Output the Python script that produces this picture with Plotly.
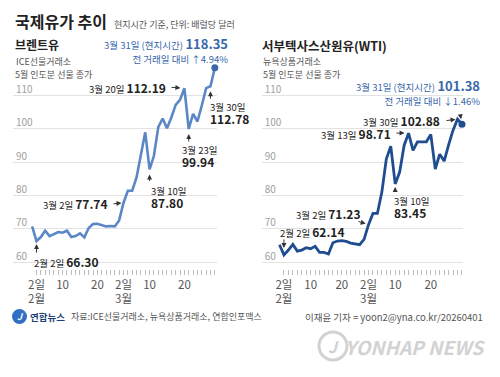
import plotly.graph_objects as go

# ---------------- data ----------------
brent_dates = [
    "2026-01-30",
    "2026-02-02", "2026-02-03", "2026-02-04", "2026-02-05", "2026-02-06",
    "2026-02-09", "2026-02-10", "2026-02-11", "2026-02-12", "2026-02-13",
    "2026-02-16", "2026-02-17", "2026-02-18", "2026-02-19", "2026-02-20",
    "2026-02-23", "2026-02-24", "2026-02-25", "2026-02-26", "2026-02-27",
    "2026-03-02", "2026-03-03", "2026-03-04", "2026-03-05", "2026-03-06",
    "2026-03-09", "2026-03-10", "2026-03-11", "2026-03-12", "2026-03-13",
    "2026-03-16", "2026-03-17", "2026-03-18", "2026-03-19", "2026-03-20",
    "2026-03-23", "2026-03-24", "2026-03-25", "2026-03-26", "2026-03-27",
    "2026-03-30", "2026-03-31",
]
brent_values = [
    70.7,
    66.30, 67.5, 69.4, 67.8, 68.5,
    69.0, 68.8, 69.4, 67.5, 67.8,
    68.6, 67.4, 70.2, 71.4, 71.5,
    71.2, 70.7, 70.8, 70.7, 72.5,
    77.74, 81.4, 81.4, 85.4, 92.7,
    98.96, 87.80, 91.9, 100.5, 103.1,
    100.2, 103.4, 107.2, 108.7, 112.19,
    99.94, 104.5, 102.2, 107.0, 112.2,
    112.78, 118.35,
]

wti_dates = [
    "2026-01-30",
    "2026-02-02", "2026-02-03", "2026-02-04", "2026-02-05", "2026-02-06",
    "2026-02-09", "2026-02-10", "2026-02-11", "2026-02-12", "2026-02-13",
    "2026-02-17", "2026-02-18", "2026-02-19", "2026-02-20",
    "2026-02-23", "2026-02-24", "2026-02-25", "2026-02-26", "2026-02-27",
    "2026-03-02", "2026-03-03", "2026-03-04", "2026-03-05", "2026-03-06",
    "2026-03-09", "2026-03-10", "2026-03-11", "2026-03-12", "2026-03-13",
    "2026-03-16", "2026-03-17", "2026-03-18", "2026-03-19", "2026-03-20",
    "2026-03-23", "2026-03-24", "2026-03-25", "2026-03-26", "2026-03-27",
    "2026-03-30", "2026-03-31",
]
wti_values = [
    65.2,
    62.14, 63.6, 65.3, 63.3, 63.6,
    64.3, 64.0, 64.7, 62.9, 62.9,
    62.4, 65.8, 66.3, 66.4,
    66.2, 65.7, 65.4, 65.2, 66.8,
    71.23, 74.6, 74.6, 81.0, 90.9,
    94.8, 83.45, 87.0, 95.0, 98.71,
    93.5, 96.1, 96.2, 96.1, 98.3,
    87.9, 92.4, 90.3, 95.2, 99.6,
    102.88, 101.38,
]

tick_dates = ["2026-02-02", "2026-02-10", "2026-02-20", "2026-03-02", "2026-03-10", "2026-03-20"]
tick_text = ["2일<br>2월", "10", "20", "2일<br>3월", "10", "20"]
y_ticks = [60, 70, 80, 90, 100, 110]

# ---------------- style ----------------
W, H = 500, 377
FONT = "Noto Sans CJK KR, Noto Sans, sans-serif"
BRENT_COLOR = "#5b87c7"
WTI_COLOR = "#1f4d8f"
HEAD_BLUE = "#3867aa"
DARK = "#222222"
GRAY = "#555555"


def px(x):
    return x / W


def py(y):
    return 1 - y / H


def md(d):
    return f"{int(d[5:7])}월 {int(d[8:10])}일"


fig = go.Figure()

bx = list(range(len(brent_dates)))
wx = list(range(len(wti_dates)))

fig.add_trace(go.Scatter(
    x=bx, y=brent_values, mode="lines", xaxis="x", yaxis="y",
    line=dict(color=BRENT_COLOR, width=2.6), hoverinfo="skip", showlegend=False))
fig.add_trace(go.Scatter(
    x=[bx[-1]], y=[brent_values[-1]], mode="markers", xaxis="x", yaxis="y",
    marker=dict(color="#3a67a8", size=7), cliponaxis=False, showlegend=False))
fig.add_trace(go.Scatter(
    x=wx, y=wti_values, mode="lines", xaxis="x2", yaxis="y2",
    line=dict(color=WTI_COLOR, width=2.8), hoverinfo="skip", showlegend=False))
fig.add_trace(go.Scatter(
    x=[wx[-1]], y=[wti_values[-1]], mode="markers", xaxis="x2", yaxis="y2",
    marker=dict(color=WTI_COLOR, size=7), cliponaxis=False, showlegend=False))

y_dom = [py(268.7), py(62.2)]


def xaxis_cfg(dom, rng, dates):
    return dict(
        domain=dom, range=rng, showgrid=False, zeroline=False, showline=False,
        tickmode="array", tickvals=[dates.index(d) for d in tick_dates], ticktext=tick_text,
        ticks="outside", ticklen=5, tickwidth=1, tickcolor="#bbbbbb",
        tickfont=dict(family=FONT, size=11.5, color=GRAY),
        minor=dict(tickmode="linear", tick0=0, dtick=1, ticks="outside", ticklen=5,
                   tickwidth=1, tickcolor="#bbbbbb", showgrid=False),
        fixedrange=True,
    )


def yaxis_cfg(anchor):
    return dict(
        domain=y_dom, range=[58, 120], anchor=anchor,
        tickmode="array", tickvals=y_ticks, showgrid=True, gridcolor="#e2e2e2", gridwidth=1,
        zeroline=False, showline=False, ticks="",
        ticklabelposition="inside", ticklabelshift=-6, ticklabelstandoff=0,
        tickfont=dict(family=FONT, size=10, color="#a0a0a0"),
        fixedrange=True,
    )


annotations = []


def text(x, y, s, size=9.5, color=GRAY, anchor="left", bold=False, **kw):
    annotations.append(dict(
        x=px(x), y=py(y), xref="paper", yref="paper", text=(f"<b>{s}</b>" if bold else s),
        showarrow=False, xanchor=anchor, yanchor="middle",
        font=dict(family=FONT, size=size, color=color), **kw))


def arrow(xr, yr, xi, yv, ax, ay, standoff):
    annotations.append(dict(
        x=xi, y=yv, xref=xr, yref=yr, ax=ax, ay=ay, text="", showarrow=True,
        arrowhead=2, arrowsize=1, arrowwidth=1, arrowcolor="#333333", standoff=standoff))


def dtext(xr, yr, xi, yv, s, anchor, xs, ys, size=9.5, yanchor="middle"):
    annotations.append(dict(
        x=xi, y=yv, xref=xr, yref=yr, text=s,
        showarrow=False, xanchor=anchor, yanchor=yanchor, xshift=xs, yshift=ys,
        align="left", font=dict(family=FONT, size=size, color=DARK)))


VAL = "<span style='font-size:12px'><b>{:.2f}</b></span>"


def inline_label(d, v):
    return f"{md(d)} " + VAL.format(v)


def two_line(d, v):
    return f"<span style='font-size:9.5px'>{md(d)}</span><br>" + VAL.format(v)


def head_block(d, v, chg):
    return (f"<span style='font-size:9.5px'>{md(d)} (현지시간)</span> "
            f"<span style='font-size:13px'><b>{v:.2f}</b></span><br>"
            f"<span style='font-size:9.5px'>전 거래일 대비 {'↑' if chg >= 0 else '↓'}{abs(chg):.2f}%</span>")


# ---- header ----
text(12.5, 21, "국제유가 추이", size=16, color=DARK, bold=True)
text(112, 24, "현지시간 기준, 단위: 배럴당 달러", size=9, color=GRAY)

# ---- Brent header ----
text(12.5, 44.5, "브렌트유", size=12, color=DARK, bold=True)
text(13.5, 61.5, "ICE선물거래소", size=9, color=GRAY)
text(13, 74.5, "5월 인도분 선물 종가", size=9, color=GRAY)
b_chg = (brent_values[-1] / brent_values[-2] - 1) * 100
text(230, 50, head_block(brent_dates[-1], brent_values[-1], b_chg),
     size=11, color=HEAD_BLUE, anchor="right", align="right")

# ---- WTI header ----
text(259.5, 45.5, "서부텍사스산원유(WTI)", size=12.5, color=DARK, bold=True)
text(260.5, 61.5, "뉴욕상품거래소", size=9, color=GRAY)
text(260.5, 74.5, "5월 인도분 선물 종가", size=9, color=GRAY)
w_chg = (wti_values[-1] / wti_values[-2] - 1) * 100
text(482, 92, head_block(wti_dates[-1], wti_values[-1], w_chg),
     size=11, color=HEAD_BLUE, anchor="right", align="right")

# ---- Brent point labels ----
bi = {d: i for i, d in enumerate(brent_dates)}
d = "2026-02-02"; i = bi[d]; v = brent_values[i]
arrow("x", "y", i, v, 0, 13, 3)
dtext("x", "y", i, v, inline_label(d, v), "left", -4.5, -20)
d = "2026-03-02"; i = bi[d]; v = brent_values[i]
arrow("x", "y", i, v, -11.5, 1, 2)
dtext("x", "y", i, v, inline_label(d, v), "right", -13.5, -1)
d = "2026-03-20"; i = bi[d]; v = brent_values[i]
arrow("x", "y", i, v, -14.4, -1, 4)
dtext("x", "y", i, v, inline_label(d, v), "right", -16.5, 1)
for d, xs, ytop, ay in [("2026-03-10", -1, -13, 13),
                        ("2026-03-23", -8.7, -12, 14),
                        ("2026-03-30", -2.5, -11.5, 14)]:
    i = bi[d]; v = brent_values[i]
    arrow("x", "y", i, v, 0, ay, 5)
    dtext("x", "y", i, v, two_line(d, v), "left", xs, ytop, size=10, yanchor="top")

# ---- WTI point labels ----
wi = {d: i for i, d in enumerate(wti_dates)}
d = "2026-02-02"; i = wi[d]; v = wti_values[i]
arrow("x2", "y2", i, v, 0, -17, 7)
dtext("x2", "y2", i, v, inline_label(d, v), "left", -5.7, 23)
d = "2026-03-02"; i = wi[d]; v = wti_values[i]
arrow("x2", "y2", i, v, -11.5, -3.6, 3)
dtext("x2", "y2", i, v, inline_label(d, v), "right", -5.5, 11.3)
d = "2026-03-13"; i = wi[d]; v = wti_values[i]
arrow("x2", "y2", i, v, -13.6, 0, 4)
dtext("x2", "y2", i, v, inline_label(d, v), "right", -15.6, 0)
d = "2026-03-30"; i = wi[d]; v = wti_values[i]
arrow("x2", "y2", i, v, -12.5, 1.5, 2)
dtext("x2", "y2", i, v, inline_label(d, v), "right", -15.5, -1.5)
d = "2026-03-10"; i = wi[d]; v = wti_values[i]
arrow("x2", "y2", i, v, 0, 9, 3)
dtext("x2", "y2", i, v, two_line(d, v), "left", -3.2, -8, size=10, yanchor="top")
arrow("x2", "y2", wx[-1], wti_values[-1], -2, -11, 5)

# ---- footer ----
text(27.5, 316.5, "연합뉴스", size=9.5, color="#1d3f7a", bold=True)
text(68.5, 316.5, "자료:ICE선물거래소, 뉴욕상품거래소, 연합인포맥스", size=9, color=GRAY)
text(485, 316.5, "이재윤 기자 = yoon2@yna.co.kr/20260401", size=9.5, color=GRAY, anchor="right")
text(19.5, 316.5, "<i>J</i>", size=9, color="white", anchor="center", bold=True)
text(487, 346, "<i>YONHAP NEWS</i>", size=19, color="#d2d2d2", anchor="right", bold=True)
text(333, 346, "<i>J</i>", size=16, color="#d2d2d2", anchor="center", bold=True)

shapes = [
    dict(type="circle", xref="paper", yref="paper", x0=px(12), x1=px(27), y0=py(324), y1=py(309),
         fillcolor="#2f6fc4", line=dict(width=0), layer="below"),
    dict(type="circle", xref="paper", yref="paper", x0=px(319), x1=px(347), y0=py(360), y1=py(332),
         fillcolor="rgba(0,0,0,0)", line=dict(color="#d2d2d2", width=3)),
]

fig.update_layout(
    width=W, height=H, margin=dict(l=0, r=0, t=0, b=0),
    paper_bgcolor="white", plot_bgcolor="white", showlegend=False,
    xaxis=xaxis_cfg([px(13), px(217)], [-4.4, 42.5], brent_dates) | dict(anchor="y"),
    yaxis=yaxis_cfg("x"),
    xaxis2=xaxis_cfg([px(261.7), px(463.3)], [-4.0, 41.3], wti_dates) | dict(anchor="y2"),
    yaxis2=yaxis_cfg("x2"),
    annotations=annotations, shapes=shapes,
    font=dict(family=FONT),
)

fig.write_html(
    "out.html",
    config={"displayModeBar": False, "staticPlot": True},
    post_script="document.body.style.margin='0';document.body.style.padding='0';"
                "document.body.style.overflow='hidden';",
)
